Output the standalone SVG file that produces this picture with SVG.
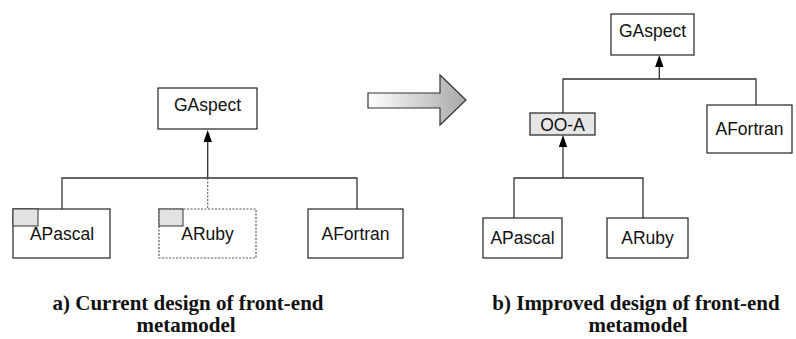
<svg xmlns="http://www.w3.org/2000/svg" width="796" height="339" viewBox="0 0 796 339">
<style>
.box{fill:#fff;stroke:#222;stroke-width:1.2}
.dbox{fill:#fff;stroke:#555;stroke-width:1.2;stroke-dasharray:2,1.5}
.tab{fill:#e2e2e2;stroke:#333;stroke-width:1}
.shade{fill:#e6e6e6;stroke:#222;stroke-width:1.2}
.lbl{font-family:"Liberation Sans",Arial,sans-serif;font-size:17.5px;fill:#111;text-anchor:middle}
.cap{font-family:"Liberation Serif","Times New Roman",serif;font-weight:bold;font-size:21px;fill:#111;text-anchor:middle}
.ln{fill:none;stroke:#333;stroke-width:1.3}
.dln{fill:none;stroke:#666;stroke-width:1.2;stroke-dasharray:2,1.5}
.head{fill:#000}
</style>
<defs>
<linearGradient id="g" x1="0" x2="1" y1="0" y2="0">
<stop offset="0" stop-color="#ffffff"/>
<stop offset="1" stop-color="#a8a8a8"/>
</linearGradient>
</defs>
<g id="connectors">
<line class="ln" x1="207.7" y1="140" x2="207.7" y2="178"/>
<polyline class="ln" points="62,209 62,178 357,178 357,209"/>
<line class="dln" x1="207.7" y1="178" x2="207.7" y2="209"/>
<polygon class="head" points="207.7,130 203.5,142 211.9,142"/>
<line class="ln" x1="659.3" y1="66" x2="659.3" y2="79"/>
<polyline class="ln" points="563,113 563,79 756,79 756,105"/>
<polygon class="head" points="659.3,55 655.1,67 663.5,67"/>
<line class="ln" x1="563" y1="146" x2="563" y2="178"/>
<polyline class="ln" points="514,218 514,178 643,178 643,218"/>
<polygon class="head" points="563,135 558.8,147 567.2,147"/>
</g>
<g id="bigArrow">
<polygon points="368,93 440,93 440,75 466,100 440,125 440,108 368,108" fill="url(#g)" stroke="#333" stroke-width="1.2"/>
</g>
<g id="a-GAspect">
<rect class="box" x="158" y="88" width="99" height="41"/>
<text class="lbl" x="207.5" y="111">GAspect</text>
</g>
<g id="a-APascal">
<rect class="box" x="13" y="209" width="97" height="49"/>
<rect class="tab" x="13" y="209" width="25" height="17"/>
<text class="lbl" x="62" y="240">APascal</text>
</g>
<g id="a-ARuby">
<rect class="dbox" x="159" y="209" width="97" height="49"/>
<rect class="tab" x="159" y="209" width="24" height="17"/>
<text class="lbl" x="207.5" y="240">ARuby</text>
</g>
<g id="a-AFortran">
<rect class="box" x="308" y="209" width="95" height="49"/>
<text class="lbl" x="355.5" y="240">AFortran</text>
</g>
<g id="b-GAspect">
<rect class="box" x="611" y="14" width="83" height="41"/>
<text class="lbl" x="652.5" y="37">GAspect</text>
</g>
<g id="b-OOA">
<rect class="shade" x="530" y="113" width="65" height="22"/>
<text class="lbl" x="562.5" y="130.5">OO-A</text>
</g>
<g id="b-AFortran">
<rect class="box" x="707" y="105" width="85" height="48"/>
<text class="lbl" x="749.5" y="135">AFortran</text>
</g>
<g id="b-APascal">
<rect class="box" x="483" y="218" width="79" height="40"/>
<text class="lbl" x="522.5" y="244">APascal</text>
</g>
<g id="b-ARuby">
<rect class="box" x="607" y="218" width="81" height="40"/>
<text class="lbl" x="647.5" y="244">ARuby</text>
</g>
<g id="captions">
<text class="cap" x="188" y="310">a) Current design of front-end</text>
<text class="cap" x="186" y="332">metamodel</text>
<text class="cap" x="636" y="310">b) Improved design of front-end</text>
<text class="cap" x="638" y="332">metamodel</text>
</g>
</svg>
